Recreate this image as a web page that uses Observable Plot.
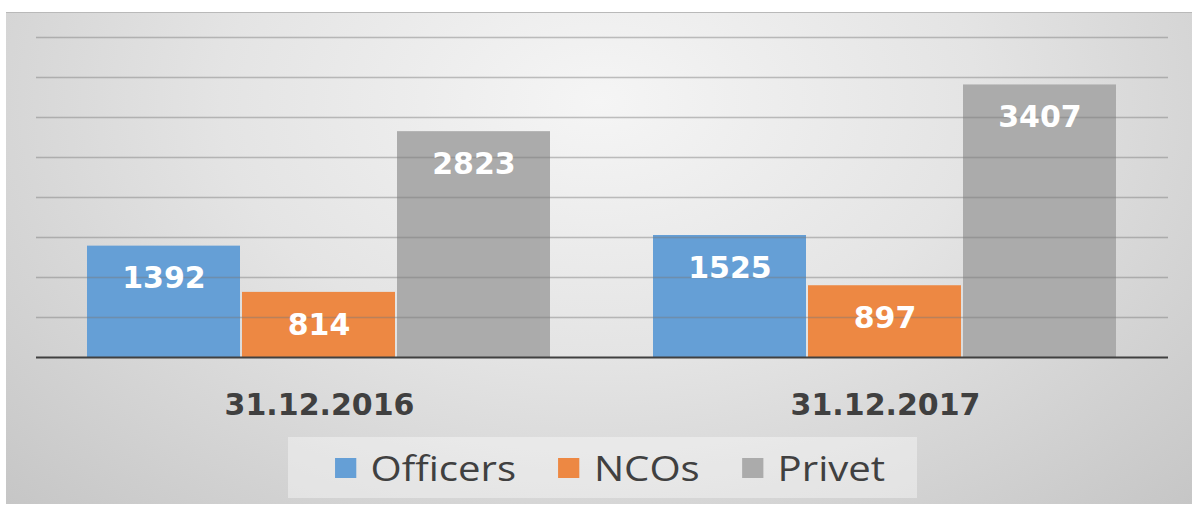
<!DOCTYPE html>
<html>
<head>
<meta charset="utf-8">
<script src="https://cdn.jsdelivr.net/npm/d3@7"></script>
<script src="https://cdn.jsdelivr.net/npm/@observablehq/plot@0.6"></script>
<style>
  html, body { margin: 0; padding: 0; background: #ffffff; }
  #frame {
    position: absolute; left: 6px; top: 12px; width: 1186px; height: 492px;
    background: radial-gradient(ellipse farthest-corner at 50% 18%, #f5f5f5 0%, #e4e4e4 45%, #c6c6c6 100%);
    border-top: 1px solid #b9b9b9;
    box-sizing: border-box;
    overflow: hidden;
  }
  #chart { position: absolute; left: 0; top: -1px; }
  #legendBox {
    position: absolute; left: 282px; top: 424px; width: 629px; height: 61px;
    background: rgba(255,255,255,0.38);
    display: flex; align-items: center; justify-content: center;
  }
  #legend {
    display: flex; align-items: center;
    font-family: "Open Sans", sans-serif; font-size: 34px; color: #404040;
    transform: scaleX(1.18); transform-origin: center;
    margin-left: 15px;
  }
  .item { display: flex; align-items: center; }
  .item + .item { margin-left: 36px; }
  .sw { width: 18px; height: 20px; margin-right: 12px; }
</style>
</head>
<body>
<div id="frame">
  <div id="chart"></div>
  <div id="legendBox"><div id="legend"></div></div>
</div>
<script>
const dates = ["31.12.2016", "31.12.2017"];
const series = ["Officers", "NCOs", "Privet"];
const officers = [1392, 1525];
const ncos = [814, 897];
const privet = [2823, 3407];
const colors = ["#659fd6", "#ed8843", "#ababab"];
const gridTicks = [500, 1000, 1500, 2000, 2500, 3000, 3500, 4000];

const valuesBySeries = [officers, ncos, privet];
const data = [];
dates.forEach((d, i) => {
  series.forEach((s, j) => {
    data.push({date: d, series: s, value: valuesBySeries[j][i]});
  });
});

const chart = Plot.plot({
  width: 1186,
  height: 425,
  marginLeft: 30,
  marginRight: 24,
  marginTop: 25,
  marginBottom: 80,
  style: {background: "transparent", color: "#404040", fontFamily: "DejaVu Sans"},
  fx: {domain: dates, padding: 0, label: null},
  x: {domain: series, paddingInner: 0.0128, paddingOuter: 0.327, axis: null},
  y: {domain: [0, 4000], axis: null},
  color: {domain: series, range: colors},
  marks: [
    Plot.barY(data, {fx: "date", x: "series", y: "value", fill: "series"}),
    Plot.ruleY(gridTicks, {stroke: "#7a7a7a", strokeOpacity: 0.45, strokeWidth: 1.4}),
    Plot.ruleY([0], {stroke: "#404040", strokeWidth: 2.2}),
    Plot.text(data, {
      fx: "date", x: "series", y: "value", text: d => String(d.value),
      fill: "white", fontWeight: "bold", fontSize: 30, lineAnchor: "top", dy: 21,
      fontFamily: "DejaVu Sans"
    }),
    Plot.axisFx({
      anchor: "bottom", tickSize: 0, tickPadding: 36, fontSize: 30,
      fontWeight: "bold", fill: "#404040", label: null, fontFamily: "DejaVu Sans"
    })
  ]
});
document.getElementById("chart").appendChild(chart);

const legend = document.getElementById("legend");
series.forEach((s, i) => {
  const item = document.createElement("div");
  item.className = "item";
  const sw = document.createElement("div");
  sw.className = "sw";
  sw.style.background = colors[i];
  const label = document.createElement("span");
  label.textContent = s;
  item.appendChild(sw);
  item.appendChild(label);
  legend.appendChild(item);
});
</script>
</body>
</html>
